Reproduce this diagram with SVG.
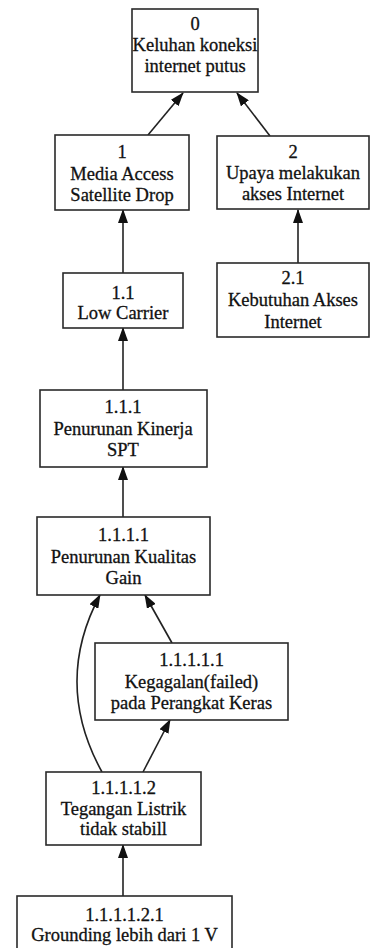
<svg xmlns="http://www.w3.org/2000/svg" width="371" height="948" viewBox="0 0 371 948">
<style>
.box{fill:#fff;stroke:#2a2a2a;stroke-width:1.6}
.t{font-family:"Liberation Serif","Times New Roman",serif;font-size:18.5px;fill:#111;stroke:#111;stroke-width:0.3;text-anchor:middle}
.e{fill:none;stroke:#222;stroke-width:1.6}
</style>
<defs>
<marker id="ah" markerWidth="14" markerHeight="10" refX="13" refY="5" orient="auto" markerUnits="userSpaceOnUse">
<path d="M0,0 L14,5 L0,10 Z" fill="#111"/>
</marker>
</defs>
<rect width="371" height="948" fill="#fff"/>
<g id="connectors">
<path class="e" d="M148,135 L183,93" marker-end="url(#ah)"/>
<path class="e" d="M270,136 L237,93" marker-end="url(#ah)"/>
<path class="e" d="M123,273 L123,210" marker-end="url(#ah)"/>
<path class="e" d="M298,263 L298,210" marker-end="url(#ah)"/>
<path class="e" d="M123,390 L123,328" marker-end="url(#ah)"/>
<path class="e" d="M123,517 L123,467" marker-end="url(#ah)"/>
<path class="e" d="M172,643 L145,595" marker-end="url(#ah)"/>
<path class="e" d="M102,772 Q53,683 100,595" marker-end="url(#ah)"/>
<path class="e" d="M143,772 L170,720" marker-end="url(#ah)"/>
<path class="e" d="M123,896 L123,845" marker-end="url(#ah)"/>
</g>
<g id="n0">
<rect class="box" x="132" y="9" width="126" height="83"/>
<text class="t" x="195" y="30">0</text>
<text class="t" x="195" y="51">Keluhan koneksi</text>
<text class="t" x="195" y="72">internet putus</text>
</g>
<g id="n1">
<rect class="box" x="55" y="135" width="134" height="75"/>
<text class="t" x="122" y="158">1</text>
<text class="t" x="122" y="180">Media Access</text>
<text class="t" x="122" y="201">Satellite Drop</text>
</g>
<g id="n2">
<rect class="box" x="217" y="136" width="152" height="73"/>
<text class="t" x="293" y="158">2</text>
<text class="t" x="293" y="179">Upaya melakukan</text>
<text class="t" x="293" y="200">akses Internet</text>
</g>
<g id="n2_1">
<rect class="box" x="217" y="263" width="152" height="74"/>
<text class="t" x="293" y="284">2.1</text>
<text class="t" x="293" y="306">Kebutuhan Akses</text>
<text class="t" x="293" y="328">Internet</text>
</g>
<g id="n1_1">
<rect class="box" x="63" y="273" width="120" height="55"/>
<text class="t" x="123" y="299">1.1</text>
<text class="t" x="123" y="319">Low Carrier</text>
</g>
<g id="n1_1_1">
<rect class="box" x="40" y="390" width="167" height="77"/>
<text class="t" x="123" y="413">1.1.1</text>
<text class="t" x="123" y="435">Penurunan Kinerja</text>
<text class="t" x="123" y="456">SPT</text>
</g>
<g id="n1_1_1_1">
<rect class="box" x="37" y="517" width="173" height="78"/>
<text class="t" x="123.5" y="541">1.1.1.1</text>
<text class="t" x="123.5" y="563">Penurunan Kualitas</text>
<text class="t" x="123.5" y="584">Gain</text>
</g>
<g id="n1_1_1_1_1">
<rect class="box" x="95" y="643" width="193" height="77"/>
<text class="t" x="191.5" y="666">1.1.1.1.1</text>
<text class="t" x="191.5" y="688">Kegagalan(failed)</text>
<text class="t" x="191.5" y="709">pada Perangkat Keras</text>
</g>
<g id="n1_1_1_1_2">
<rect class="box" x="46" y="772" width="155" height="73"/>
<text class="t" x="123.5" y="794">1.1.1.1.2</text>
<text class="t" x="123.5" y="815">Tegangan Listrik</text>
<text class="t" x="123.5" y="835">tidak stabill</text>
</g>
<g id="n1_1_1_1_2_1">
<rect class="box" x="17" y="896" width="215" height="70"/>
<text class="t" x="124.5" y="921">1.1.1.1.2.1</text>
<text class="t" x="124.5" y="941">Grounding lebih dari 1 V</text>
</g>
</svg>
